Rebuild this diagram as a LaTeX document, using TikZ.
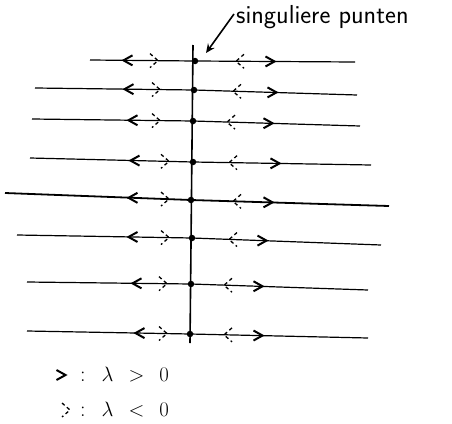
\documentclass[tikz,border=0pt]{standalone}
\usetikzlibrary{arrows.meta,calc}
\begin{document}
\begin{tikzpicture}[x=1pt,y=-1pt,
  dot/.style={circle,fill=black,inner sep=0pt,minimum size=6.5pt},
  solidR/.pic={\draw[line width=2pt,line join=miter] (-4.5,-5) -- (4.5,0) -- (-4.5,5);},
  solidL/.pic={\draw[line width=2pt,line join=miter] (4.5,-5) -- (-4.5,0) -- (4.5,5);},
  dashR/.pic={\draw[line width=1.3pt,dash pattern=on 3.5pt off 3pt] (-4,-7) -- (4,0) -- (-4,7);},
  dashL/.pic={\draw[line width=1.3pt,dash pattern=on 3.5pt off 3pt] (4,-7) -- (-4,0) -- (4,7);},
  hand/.style={font=\sffamily\fontsize{26}{30}\selectfont},
  leg/.style={anchor=west,inner sep=0pt,font=\fontsize{22}{26}\selectfont}
]
\useasboundingbox (0,0) rectangle (452,423);
% vertical axis
\coordinate (vtop) at (193,45);
\coordinate (vbot) at (190,343);
\draw[line width=1.6pt] (vtop) -- (vbot);
% rows: index / xL / yL / xD / yD / xR / yR / lw / solid< / dashed> / dashed< / solid>
\foreach \i/\xl/\yl/\xd/\yd/\xr/\yr/\lw/\a/\b/\c/\d in {
  1/90/60/195/61/355/62/1.2/128/154/240/270,
  2/35/88/194/90/357/95/1.2/129/156/237/272,
  3/32/119/193/121/360/126/1.2/133/156/231/268,
  4/30/158/193/162/371/165/1.2/135/165/233/275,
  5/5/193/191/200/389/206/1.8/133/165/237/268,
  6/17/235/192/238/381/245/1.2/133/165/233/262,
  7/27/282/191/284/368/290/1.2/137/163/228/258,
  8/27/331/190/334/368/338/1.2/140/163/228/258}{
  \coordinate (L\i) at (\xl,\yl);
  \coordinate (R\i) at (\xr,\yr);
  \node[dot] (d\i) at (\xd,\yd) {};
  \draw[line width=\lw pt] (L\i) -- (d\i.center) -- (R\i);
  \pgfmathsetmacro{\ya}{\yd+(\a-\xd)*(\yd-\yl)/(\xd-\xl)}
  \pgfmathsetmacro{\yb}{\yd+(\b-\xd)*(\yd-\yl)/(\xd-\xl)}
  \pgfmathsetmacro{\yc}{\yd+(\c-\xd)*(\yr-\yd)/(\xr-\xd)}
  \pgfmathsetmacro{\ye}{\yd+(\d-\xd)*(\yr-\yd)/(\xr-\xd)}
  \pic at (\a,\ya) {solidL};
  \pic at (\b,\yb) {dashR};
  \pic at (\c,\yc) {dashL};
  \pic at (\d,\ye) {solidR};
}
% label
\node[hand,anchor=west,inner sep=0pt] (sp) at (236,17) {singuliere punten};
\coordinate (ptr) at (206,53);
\draw[line width=1.6pt,-{Stealth[length=9pt,width=8pt]}] ([xshift=-2pt,yshift=3pt]sp.west) -- (ptr);
% legend
\pic at (61,375) {solidR};
\node[leg] (lg1) at (80,375) {:\hspace{16pt}$\lambda\;\,>\;\,0$};
\pic at (66,410) {dashR};
\node[leg] (lg2) at (80,410) {:\hspace{16pt}$\lambda\;\,<\;\,0$};
\end{tikzpicture}
\end{document}
